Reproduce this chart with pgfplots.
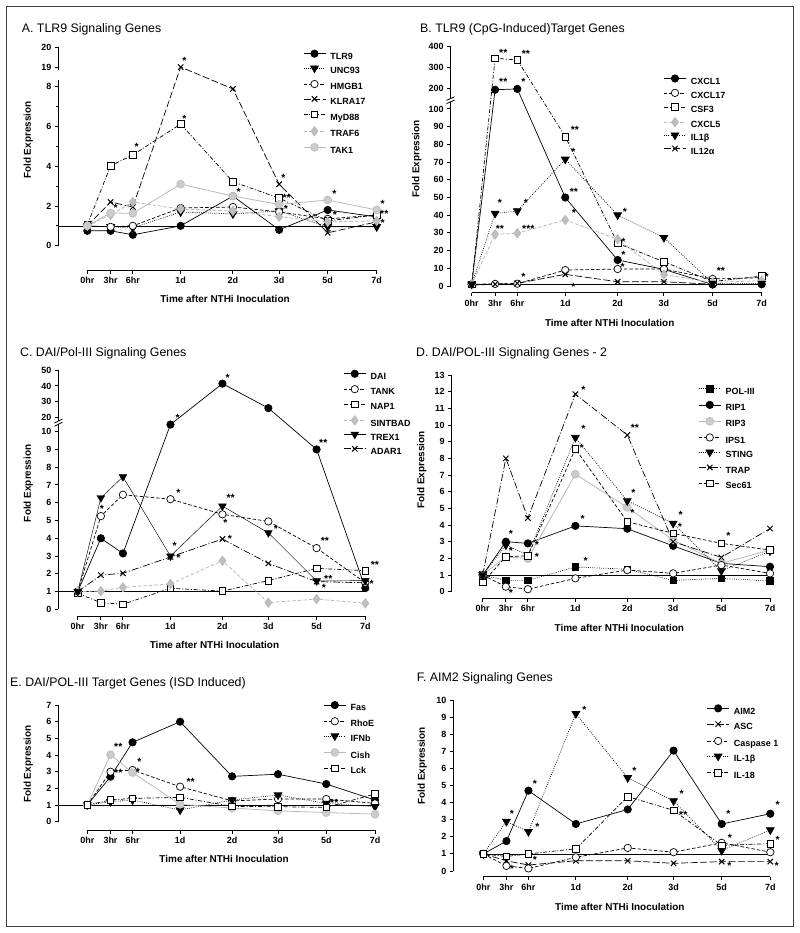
\documentclass[border=0pt]{standalone}
\usepackage{fontspec}
\setmainfont{Liberation Sans}
\usepackage{pgfplots}
\usepackage{pgfplotstable}
\pgfplotsset{compat=1.18}

% x positions: 0hr 3hr 6hr 1d 2d 3d 5d 7d
\pgfplotstableread{
x     TLR9 UNC93 HMGB1 KLRA17 MyD88 TRAF6 TAK1
0     0.75 1.0   1.0   1.0    1.05  1.0   1.0
1     0.75 0.95  0.95  2.2    4.03  1.55  1.65
1.95  0.55 0.9   1.0   1.95   4.57  2.2   1.63
4     1.0  1.7   1.9   19.0   6.13  1.85  3.1
6.24  2.5  1.6   1.95  7.9    3.22  1.75  2.5
8.22  0.8  1.75  1.7   3.1    2.4   1.46  2.08
10.3  1.8  0.95  1.35  0.65   1.25  1.2   2.3
12.4  1.45 0.95  1.55  1.2    1.55  1.25  1.8
}\tA
\pgfplotstableread{
x     CXCL1 CXCL17 CSF3 CXCL5 IL1b IL12a
0     1.0   1.0    1.0  1.0   1.0  0.5
1     193   1.2    343  29.2  41.0 1.0
1.95  197   1.3    335  29.8  42.4 1.5
4     50    9.0    84.4 37.3  71.6 6.6
6.24  14.7  9.6    24.1 26.4  40.1 2.4
8.22  9.4   9.6    13.7 6.5   27.3 2.4
10.3  0.8   4.0    2.5  2.0   1.5  1.0
12.4  1.0   4.7    5.6  3.0   1.5  1.0
}\tB
\pgfplotstableread{
x     DAI  TANK NAP1 SINTBAD TREX1 ADAR1
0     1.0  1.0  0.9  1.0     1.0   1.0
1     4.0  5.25 0.38 1.03    6.28  1.93
1.95  3.15 6.45 0.29 1.24    7.46  2.03
4     10.4 6.2  1.19 1.43    3.0   2.95
6.24  41.5 5.35 1.03 2.74    5.81  3.96
8.22  26.1 4.95 1.62 0.38    4.31  2.59
10.3  9.0  3.45 2.31 0.58    1.6   1.56
12.4  1.2  1.5  2.18 0.34    1.62  1.5
}\tC
\pgfplotstableread{
x     POL RIP1 RIP3 IPS1 STING TRAP  Sec
0     1.0  1.0  1.0  1.0  1.0   1.0   0.55
1     0.68 3.0  2.1  0.3  2.8   8.0   2.1
1.95  0.68 2.9  1.98 0.15 2.2   4.42  2.15
4     1.48 3.95 7.05 0.8  9.25  11.85 8.57
6.24  1.35 3.78 5.06 1.3  5.45  9.4   4.2
8.22  0.68 2.75 3.1  1.1  4.1   3.0   3.5
10.3  0.8  1.7  1.7  1.6  1.25  2.06  2.9
12.4  0.65 1.5  2.5  1.1  2.44  3.79  2.5
}\tD
\pgfplotstableread{
x     Fas  RhoE IFNb Cish Lck
0     1.0  1.0  1.0  1.0  1.0
1     2.7  3.0  1.2  4.02 1.3
1.95  4.76 3.1  1.3  2.95 1.4
4     6.0  2.1  0.7  1.04 1.46
6.24  2.72 1.25 1.3  0.82 0.92
8.22  2.85 1.36 1.6  0.65 0.9
10.3  2.26 1.36 1.1  0.55 0.86
12.4  1.3  1.1  0.9  0.45 1.66
}\tE
\pgfplotstableread{
x     AIM2 ASC  Casp IL1b IL18
0     1.0  1.0  1.0  1.0  1.0
1     1.75 0.6  0.3  2.9  0.85
1.95  4.7  0.35 0.15 2.3  1.0
4     2.75 0.6  0.8  9.2  1.3
6.24  3.6  0.6  1.35 5.45 4.35
8.22  7.04 0.45 1.1  4.1  3.55
10.3  2.75 0.55 1.65 1.2  1.5
12.4  3.35 0.55 1.1  2.4  1.6
}\tF

\pgfplotsset{
  pan/.style={
    scale only axis, clip=false, anchor=south west,
    axis lines=left,
    every outer x axis line/.append style={-},
    every outer y axis line/.append style={-},
    axis line style={line width=1bp,-},
    xmin=0, xmax=12.4,
    xtick={0,1,1.95,4,6.24,8.22,10.3,12.4},
    xticklabels={0hr,3hr,6hr,1d,2d,3d,5d,7d},
    tick align=outside,
    major tick length=3.5bp, minor tick length=2bp,
    every tick/.style={black, line width=1bp},
    /pgf/number format/assume math mode=true,
    tick label style={font=\bfseries\fontsize{9}{10}\selectfont},
    label style={font=\bfseries\fontsize{10}{12}\selectfont},
    xlabel={Time after NTHi Inoculation},
    ylabel={Fold Expression},
    legend cell align=left,
    legend style={draw=none, fill=none, anchor=north west, inner sep=0pt,
      column sep=4bp, font=\bfseries\fontsize{9}{10}\selectfont,
      nodes={inner sep=0.5bp, text height=6.5bp, text depth=1.5bp}},
    legend image code/.code={\draw[mark repeat=2,mark phase=2,##1]
      plot coordinates {(0bp,3.2bp) (11bp,3.2bp) (22bp,3.2bp)};},
  },
  xlab/.style={xlabel style={at={(axis description cs:0.5,0)}, anchor=center,
      yshift=-#1, xshift=-7bp}},
  ylab/.style 2 args={ylabel style={at={([xshift=-#1]axis description cs:0,#2)},
      anchor=center}},
  lk/.style={black, line width=0.7pt},
  lg/.style={gray!55, line width=0.8pt},
  dsh/.style={dash pattern=on 3.5bp off 2bp},
  ldsh/.style={dash pattern=on 7bp off 2.5bp},
  dd/.style={dash pattern=on 4bp off 1.8bp on 1bp off 1.8bp},
  ldd/.style={dash pattern=on 7bp off 2bp on 1bp off 2bp},
  dot/.style={dash pattern=on 0.8bp off 1.4bp},
  mFc/.style={mark=*, mark size=3.7bp, mark options={solid, fill=black, draw=black}},
  mOc/.style={mark=*, mark size=3.7bp, mark options={solid, fill=white, draw=black}},
  mTri/.style={mark=triangle*, mark size=4.5bp, mark options={solid, rotate=180, fill=black, draw=black}},
  mSq/.style={mark=square*, mark size=3.3bp, mark options={solid, fill=white, draw=black}},
  mFsq/.style={mark=square*, mark size=3.3bp, mark options={solid, fill=black, draw=black}},
  mX/.style={mark=x, mark size=3.8bp, mark options={solid, line width=1pt, draw=black}},
  mDia/.style={mark=diamond*, mark size=4.6bp, mark options={solid, fill=gray!50, draw=gray!55}},
  mGc/.style={mark=*, mark size=3.9bp, mark options={solid, fill=gray!40, draw=gray!50}},
  one/.style={black, line width=0.6pt, forget plot},
}
% significance stars: box trimmed to the glyph, centred on the point
\newcommand\st[3]{\node[font=\bfseries\fontsize{10.5}{11}\selectfont, inner sep=0pt,
  text depth=-4.4bp, anchor=center] at (#1,#2) {#3};}
\newcommand\ttl[3]{\node[font=\fontsize{12.4}{14}\selectfont, inner sep=0pt,
  anchor=base west] at (#1,#2) {#3};}

\begin{document}
\begin{tikzpicture}
\useasboundingbox (0,0) rectangle (800bp,-933bp);
\fill[white] (0,0) rectangle (800bp,-933bp);

% ---------------- A
\begin{axis}[pan, at={(87.3bp,-245.7bp)}, width=289.4bp, height=198.5bp,
  ymin=0, ymax=20,
  y coord trafo/.code={\pgfmathparse{#1>12 ? #1-10 : #1}},
  y coord inv trafo/.code={\pgfmathparse{#1>8.6 ? #1+10 : #1}},
  ytick={0,2,4,6,8,19,20}, yticklabels={0,2,4,6,8,19,20},
  minor ytick={1,3,5,7},
  axis x line shift=24.3bp, axis y line shift=29bp,
  xlab=53.3bp, ylab={59bp}{0.532},
  legend style={at={(0.745,0.987)}, row sep=4.5bp}]
\addplot[one] coordinates {(-1.24,1) (12.4,1)};
\addplot[lk, mFc] table[y=TLR9] {\tA};
\addplot[lk, dot, mTri] table[y=UNC93] {\tA};
\addplot[lk, dsh, mOc] table[y=HMGB1] {\tA};
\addplot[lk, ldsh, mX] table[y=KLRA17] {\tA};
\addplot[lk, dd, mSq] table[y=MyD88] {\tA};
\addplot[lg, dsh, mDia] table[y=TRAF6] {\tA};
\addplot[lg, mGc] table[y=TAK1] {\tA};
\legend{TLR9,UNC93,HMGB1,KLRA17,MyD88,TRAF6,TAK1}
\end{axis}

% ---------------- B
\begin{axis}[pan, at={(471.7bp,-286bp)}, width=290bp, height=239.7bp,
  ymin=0, ymax=400,
  y coord trafo/.code={\pgfmathparse{#1>106 ? 111.7+0.1186*(#1-200) : #1}},
  y coord inv trafo/.code={\pgfmathparse{#1>107 ? (#1-111.7)/0.1186+200 : #1}},
  ytick={0,10,20,30,40,50,60,70,80,90,100,200,300,400},
  yticklabels={0,10,20,30,40,50,60,70,80,90,100,200,300,400},
  axis x line shift=6.7bp, axis y line shift=21bp,
  xlab=37.3bp, ylab={55bp}{0.53},
  legend style={at={(0.661,0.882)}, row sep=3bp}]
\addplot[one] coordinates {(0,1) (12.4,1)};
\addplot[lk, mFc] table[y=CXCL1] {\tB};
\addplot[lk, dsh, mOc] table[y=CXCL17] {\tB};
\addplot[lk, dd, mSq] table[y=CSF3] {\tB};
\addplot[lg, dsh, mDia] table[y=CXCL5] {\tB};
\addplot[lk, dot, mTri] table[y=IL1b] {\tB};
\addplot[lk, ldsh, mX] table[y=IL12a] {\tB};
\legend{CXCL1,CXCL17,CSF3,CXCL5,IL1β,IL12α}
\end{axis}

% ---------------- C
\begin{axis}[pan, at={(77.7bp,-609.4bp)}, width=287.6bp, height=239.3bp,
  ymin=0, ymax=50,
  y coord trafo/.code={\pgfmathparse{#1>10.6 ? 10.78+0.0894*(#1-20) : #1}},
  y coord inv trafo/.code={\pgfmathparse{#1>10.7 ? (#1-10.78)/0.0894+20 : #1}},
  ytick={0,1,2,3,4,5,6,7,8,9,10,20,30,40,50},
  yticklabels={0,1,2,3,4,5,6,7,8,9,10,20,30,40,50},
  axis x line shift=6.6bp, axis y line shift=19.4bp,
  xlab=35.6bp, ylab={49.4bp}{0.527},
  legend style={at={(0.923,1.001)}, row sep=4bp}]
\addplot[one] coordinates {(-0.84,1) (12.4,1)};
\addplot[lk, mFc] table[y=DAI] {\tC};
\addplot[lk, dsh, mOc] table[y=TANK] {\tC};
\addplot[lk, dd, mSq] table[y=NAP1] {\tC};
\addplot[lg, dsh, mDia] table[y=SINTBAD] {\tC};
\addplot[black, line width=0.45pt, mTri] table[y=TREX1] {\tC};
\addplot[lk, ldd, mX] table[y=ADAR1] {\tC};
\legend{DAI,TANK,NAP1,SINTBAD,TREX1,ADAR1}
\end{axis}

% ---------------- D
\begin{axis}[pan, at={(482.7bp,-591.7bp)}, width=287.3bp, height=216.7bp,
  ymin=0, ymax=13, ytick={0,1,...,13},
  axis x line shift=6.6bp, axis y line shift=31bp,
  xlab=36.6bp, ylab={61bp}{0.562},
  legend style={at={(0.75,0.953)}, row sep=4.8bp}]
\addplot[one] coordinates {(0,1) (12.4,1)};
\addplot[lk, dot, mFsq] table[y=POL] {\tD};
\addplot[lk, mFc] table[y=RIP1] {\tD};
\addplot[lg, mGc] table[y=RIP3] {\tD};
\addplot[lk, dsh, mOc] table[y=IPS1] {\tD};
\addplot[lk, dot, mTri] table[y=STING] {\tD};
\addplot[lk, ldd, mX] table[y=TRAP] {\tD};
\addplot[lk, dsh, mSq] table[y=Sec] {\tD};
\legend{POL-III,RIP1,RIP3,IPS1,STING,TRAP,Sec61}
\end{axis}

% ---------------- E
\begin{axis}[pan, at={(87.3bp,-821.7bp)}, width=287.7bp, height=116.7bp,
  ymin=0, ymax=7, ytick={0,1,...,7},
  axis x line shift=8.3bp, axis y line shift=29bp,
  xlab=37.6bp, ylab={59bp}{0.494},
  legend style={at={(0.82,1.033)}, row sep=4.8bp}]
\addplot[one] coordinates {(-1.25,1) (12.4,1)};
\addplot[lk, mFc] table[y=Fas] {\tE};
\addplot[lk, dsh, mOc] table[y=RhoE] {\tE};
\addplot[lk, dot, mTri] table[y=IFNb] {\tE};
\addplot[lg, mGc] table[y=Cish] {\tE};
\addplot[lk, dd, mSq] table[y=Lck] {\tE};
\legend{Fas,RhoE,IFNb,Cish,Lck}
\end{axis}

% ---------------- F
\begin{axis}[pan, at={(483.3bp,-871bp)}, width=287bp, height=171bp,
  ymin=0, ymax=10, ytick={0,1,...,10},
  axis x line shift=5.7bp, axis y line shift=30bp,
  xlab=35.7bp, ylab={61bp}{0.615},
  legend style={at={(0.778,0.974)}, row sep=5.4bp}]
\addplot[one] coordinates {(0,1) (12.4,1)};
\addplot[lk, mFc] table[y=AIM2] {\tF};
\addplot[lk, ldsh, mX] table[y=ASC] {\tF};
\addplot[lk, dsh, mOc] table[y=Casp] {\tF};
\addplot[lk, dot, mTri] table[y=IL1b] {\tF};
\addplot[lk, dd, mSq] table[y=IL18] {\tF};
\legend{AIM2,ASC,Caspase 1,IL-1β,IL-18}
\end{axis}

\begin{scope}[x=1bp,y=-1bp]
\draw[black!75, line width=1bp] (6,6) rectangle (793.3,926);
% titles
\ttl{21.7}{32}{A. TLR9 Signaling Genes}
\ttl{420}{32}{B. TLR9 (CpG-Induced)Target Genes}
\ttl{20}{356.7}{C. DAI/Pol-III Signaling Genes}
\ttl{416}{356.7}{D. DAI/POL-III Signaling Genes - 2}
\ttl{10}{686.7}{E. DAI/POL-III Target Genes (ISD Induced)}
\ttl{416.7}{681}{F. AIM2 Signaling Genes}
% axis breaks
\fill[white] (55,70.3) rectangle (62,79.6);
\fill[white] (447,97.8) rectangle (455,102.2);
\draw[line width=0.8bp] (446.5,100.3) -- (454.5,96.8);
\draw[line width=0.8bp] (446.5,103.6) -- (454.5,100.1);
\fill[white] (54.5,420.7) rectangle (62,424);
\draw[line width=0.8bp] (54.5,423) -- (62.5,419);
\draw[line width=0.8bp] (54.5,426.3) -- (62.5,422.3);
% asterisks A
\st{184.3}{61}{*}\st{184.3}{119.3}{*}\st{136.7}{147.3}{*}\st{115.7}{208.3}{*}
\st{238.7}{192.3}{*}\st{283.3}{178.3}{*}\st{286.7}{197.7}{**}\st{286}{209}{*}
\st{334.3}{194.3}{*}\st{335}{215}{*}\st{382.7}{203.5}{*}\st{384.3}{213.5}{**}
\st{382.7}{223}{*}
% asterisks B
\st{503.3}{53.3}{**}\st{526}{54}{**}\st{503.3}{81.7}{**}\st{523.3}{81.7}{*}
\st{575}{130}{**}\st{573.3}{151.7}{*}\st{574}{192.3}{**}\st{500}{202.7}{*}
\st{526}{203.3}{*}\st{574}{213.3}{*}\st{500}{229.3}{**}\st{528.3}{229.3}{***}
\st{625}{211.7}{*}\st{623.3}{241.7}{*}\st{623.3}{255}{*}\st{622.7}{266.7}{*}
\st{523.3}{277.3}{*}\st{573.3}{287.3}{*}\st{721}{270.7}{**}\st{766.7}{276.7}{*}
% asterisks C
\st{177.7}{418.3}{*}\st{227.7}{377.7}{*}\st{323.3}{442.7}{**}\st{102}{509.3}{*}
\st{178.3}{492.7}{*}\st{230.7}{497.7}{**}\st{225.3}{523.3}{*}\st{276}{529}{*}
\st{325}{540.7}{**}\st{174.7}{545.7}{*}\st{178.3}{557.7}{*}\st{230}{539.3}{*}
\st{375}{565}{**}\st{328.3}{579.3}{**}\st{324}{588.3}{*}\st{371.7}{584}{*}
% asterisks D
\st{583.3}{390}{*}\st{635}{428.3}{**}\st{583.3}{429.3}{*}\st{581.7}{448.3}{*}
\st{633.3}{492.7}{*}\st{632.3}{513.3}{*}\st{582.7}{519.3}{*}\st{680.7}{515}{*}
\st{680}{526.7}{*}\st{728.3}{536}{*}\st{511}{534}{*}\st{511}{550.7}{*}
\st{537}{545}{*}\st{537}{557}{*}\st{585.7}{560.7}{*}\st{511}{592.7}{*}
% asterisks E
\st{118.3}{746.7}{**}\st{118.3}{773.3}{**}\st{139.3}{762}{*}\st{138}{771.5}{*}
\st{190.7}{781.7}{**}\st{334.3}{803.3}{**}
% asterisks F
\st{535}{784.3}{*}\st{584.3}{710}{*}\st{634.3}{771}{*}\st{681.7}{794.3}{*}
\st{683.3}{815}{**}\st{512}{814}{*}\st{537.3}{827.3}{*}\st{728.3}{814.3}{*}
\st{777.7}{805}{*}\st{730}{838.3}{*}\st{777.7}{840}{*}\st{512}{869.3}{*}
\st{535}{860}{*}\st{729.3}{866}{*}\st{776.7}{866}{*}
\end{scope}
\end{tikzpicture}
\end{document}
